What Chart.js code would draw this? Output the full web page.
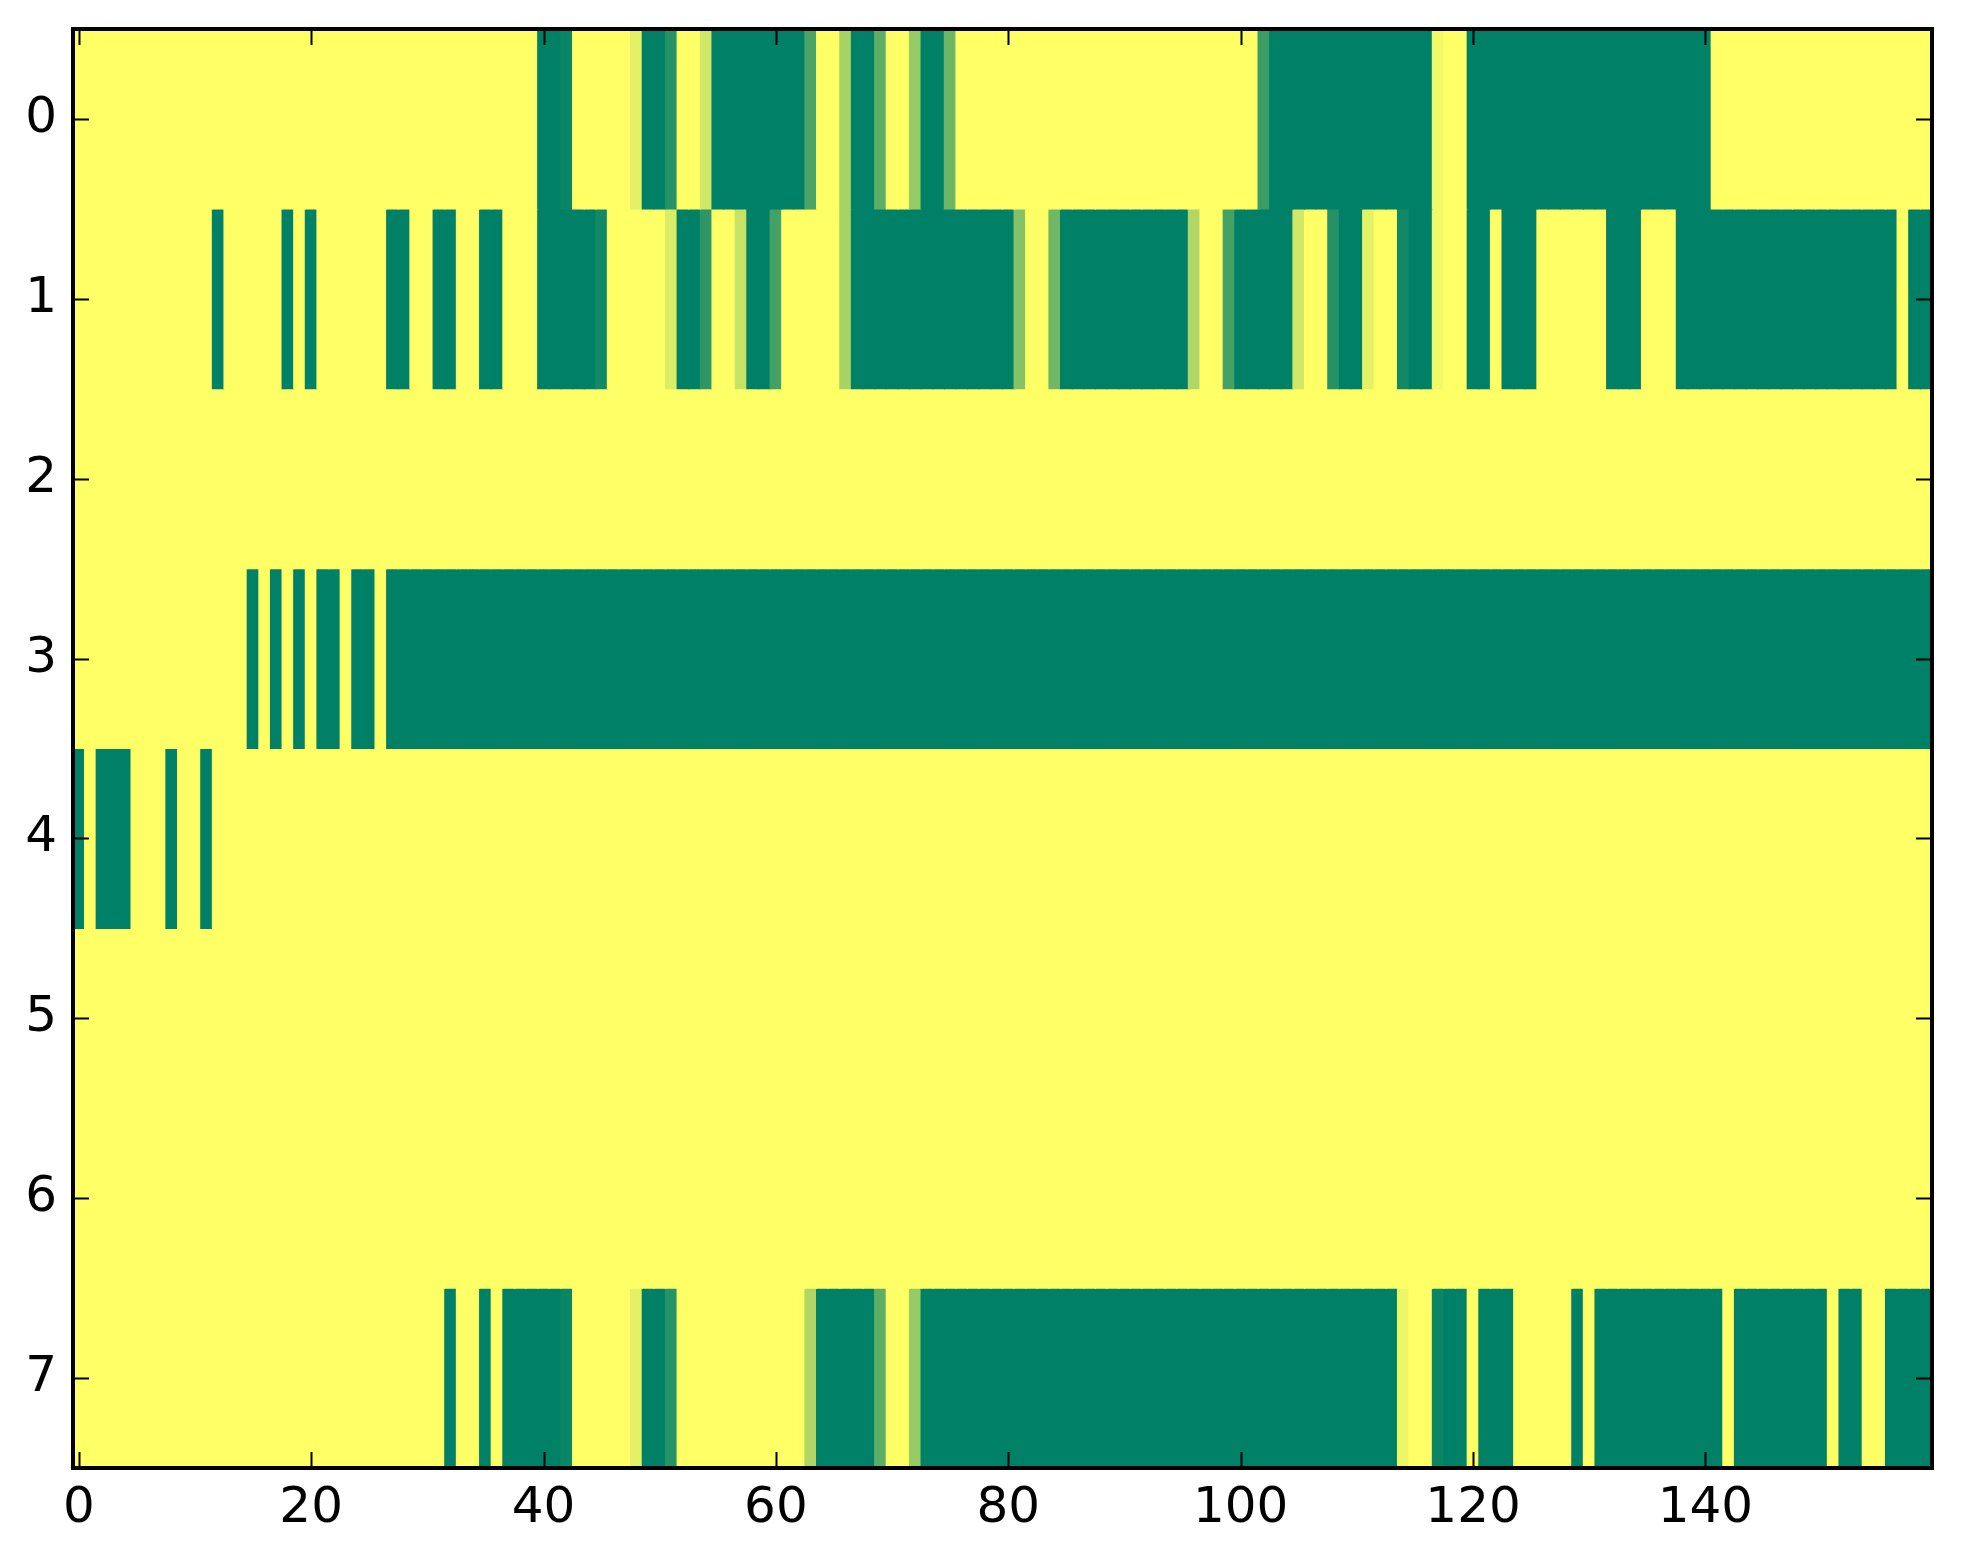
<!DOCTYPE html>
<html>
<head>
<meta charset="utf-8">
<title>Heatmap</title>
<script src="https://cdn.jsdelivr.net/npm/chart.js@4.4.0/dist/chart.umd.min.js"></script>
<style>
  html, body { margin: 0; padding: 0; background: #fff; }
  #wrap { width: 1963px; height: 1564px; }
</style>
</head>
<body>
<div id="wrap"><canvas id="heatmap" width="1963" height="1564"></canvas></div>
<script>
// Axis ticks
const rowLabels = [0, 1, 2, 3, 4, 5, 6, 7];
const xTickValues = [0, 20, 40, 60, 80, 100, 120, 140];

// Cell values, one array per row, 160 columns (20 per line)
const row0 = [
  1,1,1,1,1,1,1,1,1,1, 1,1,1,1,1,1,1,1,1,1,
  1,1,1,1,1,1,1,1,1,1, 1,1,1,1,1,1,1,1,1,1,
  0,0,0.04,1,1,1,1,1,0.89,0, 0,0.14,1,1,0.82,0,0,0,0,0,
  0,0,0,0.29,1,1,0.65,0,0,0.37, 1,1,0.59,0,0,0.43,1,1,1,1,
  1,1,1,1,1,1,1,1,1,1, 1,1,1,1,1,1,1,1,1,1,
  1,1,0.23,0,0,0,0,0,0,0, 0,0,0,0,0,0,0,0.95,1,1,
  0,0,0,0,0,0,0,0,0,0, 0,0,0,0,0,0,0,0,0,0,
  0,1,1,1,1,1,1,1,1,1, 1,1,1,1,1,1,1,1,1,1
];
const row1 = [
  1,1,1,1,1,1,1,1,1,1, 1,1,0,1,1,1,1,1,0,1,
  0,1,1,1,1,1,1,0,0,1, 1,0,0,1,1,0,0,1,1,1,
  0,0,0,0,0,0.07,1,1,1,1, 1,0.86,0,0,0.18,1,1,0.78,0,0,
  0.26,1,1,1,1,1,0.65,0,0,0, 0,0,0,0,0,0,0,0,0,0,
  0,0.52,1,1,0.44,0,0,0,0,0, 0,0,0,0,0,0,0.69,1,1,0.27,
  0,0,0,0,0,0.82,1,1,0.14,0, 0,0.89,1,1,0.07,0,0,0.95,1,1,
  0,0,1,0,0,0,1,1,1,1, 1,1,0,0,0,1,1,1,0,0,
  0,0,0,0,0,0,0,0,0,0, 0,0,0,0,0,0,0,1,0,0
];
const row2 = [
  1,1,1,1,1,1,1,1,1,1, 1,1,1,1,1,1,1,1,1,1,
  1,1,1,1,1,1,1,1,1,1, 1,1,1,1,1,1,1,1,1,1,
  1,1,1,1,1,1,1,1,1,1, 1,1,1,1,1,1,1,1,1,1,
  1,1,1,1,1,1,1,1,1,1, 1,1,1,1,1,1,1,1,1,1,
  1,1,1,1,1,1,1,1,1,1, 1,1,1,1,1,1,1,1,1,1,
  1,1,1,1,1,1,1,1,1,1, 1,1,1,1,1,1,1,1,1,1,
  1,1,1,1,1,1,1,1,1,1, 1,1,1,1,1,1,1,1,1,1,
  1,1,1,1,1,1,1,1,1,1, 1,1,1,1,1,1,1,1,1,1
];
const row3 = [
  1,1,1,1,1,1,1,1,1,1, 1,1,1,1,1,0,1,0,1,0,
  1,0,0,1,0,0,1,0,0,0, 0,0,0,0,0,0,0,0,0,0,
  0,0,0,0,0,0,0,0,0,0, 0,0,0,0,0,0,0,0,0,0,
  0,0,0,0,0,0,0,0,0,0, 0,0,0,0,0,0,0,0,0,0,
  0,0,0,0,0,0,0,0,0,0, 0,0,0,0,0,0,0,0,0,0,
  0,0,0,0,0,0,0,0,0,0, 0,0,0,0,0,0,0,0,0,0,
  0,0,0,0,0,0,0,0,0,0, 0,0,0,0,0,0,0,0,0,0,
  0,0,0,0,0,0,0,0,0,0, 0,0,0,0,0,0,0,0,0,0
];
const row4 = [
  0,1,0,0,0,1,1,1,0,1, 1,0,1,1,1,1,1,1,1,1,
  1,1,1,1,1,1,1,1,1,1, 1,1,1,1,1,1,1,1,1,1,
  1,1,1,1,1,1,1,1,1,1, 1,1,1,1,1,1,1,1,1,1,
  1,1,1,1,1,1,1,1,1,1, 1,1,1,1,1,1,1,1,1,1,
  1,1,1,1,1,1,1,1,1,1, 1,1,1,1,1,1,1,1,1,1,
  1,1,1,1,1,1,1,1,1,1, 1,1,1,1,1,1,1,1,1,1,
  1,1,1,1,1,1,1,1,1,1, 1,1,1,1,1,1,1,1,1,1,
  1,1,1,1,1,1,1,1,1,1, 1,1,1,1,1,1,1,1,1,1
];
const row5 = [
  1,1,1,1,1,1,1,1,1,1, 1,1,1,1,1,1,1,1,1,1,
  1,1,1,1,1,1,1,1,1,1, 1,1,1,1,1,1,1,1,1,1,
  1,1,1,1,1,1,1,1,1,1, 1,1,1,1,1,1,1,1,1,1,
  1,1,1,1,1,1,1,1,1,1, 1,1,1,1,1,1,1,1,1,1,
  1,1,1,1,1,1,1,1,1,1, 1,1,1,1,1,1,1,1,1,1,
  1,1,1,1,1,1,1,1,1,1, 1,1,1,1,1,1,1,1,1,1,
  1,1,1,1,1,1,1,1,1,1, 1,1,1,1,1,1,1,1,1,1,
  1,1,1,1,1,1,1,1,1,1, 1,1,1,1,1,1,1,1,1,1
];
const row6 = [
  1,1,1,1,1,1,1,1,1,1, 1,1,1,1,1,1,1,1,1,1,
  1,1,1,1,1,1,1,1,1,1, 1,1,1,1,1,1,1,1,1,1,
  1,1,1,1,1,1,1,1,1,1, 1,1,1,1,1,1,1,1,1,1,
  1,1,1,1,1,1,1,1,1,1, 1,1,1,1,1,1,1,1,1,1,
  1,1,1,1,1,1,1,1,1,1, 1,1,1,1,1,1,1,1,1,1,
  1,1,1,1,1,1,1,1,1,1, 1,1,1,1,1,1,1,1,1,1,
  1,1,1,1,1,1,1,1,1,1, 1,1,1,1,1,1,1,1,1,1,
  1,1,1,1,1,1,1,1,1,1, 1,1,1,1,1,1,1,1,1,1
];
const row7 = [
  1,1,1,1,1,1,1,1,1,1, 1,1,1,1,1,1,1,1,1,1,
  1,1,1,1,1,1,1,1,1,1, 1,1,0,1,1,0,1,0,0,0,
  0,0,0.04,1,1,1,1,1,0.89,0, 0,0.15,1,1,1,1,1,1,1,1,
  1,1,1,0.69,0,0,0,0,0,0.37, 1,1,0.59,0,0,0,0,0,0,0,
  0,0,0,0,0,0,0,0,0,0, 0,0,0,0,0,0,0,0,0,0,
  0,0,0,0,0,0,0,0,0,0, 0,0,0,0,0.93,1,1,0.04,0,0,
  1,0,0,0,1,1,1,1,1,0, 1,0,0,0,0,0,0,0,0,0,
  0,0,1,0,0,0,0,0,0,0, 0,1,0,0,1,1,0,0,0,0
];

const rows = [row0, row1, row2, row3, row4, row5, row6, row7];

// matplotlib "summer" colormap
function summer(v) {
    const r = Math.round(255 * v);
    const g = Math.round(127.5 + 127.5 * v);
    return `rgb(${r}, ${g}, 102)`;
}

const fontSpec = { family: "'DejaVu Sans', sans-serif", size: 50 };

// one dataset per row, each cell a floating bar spanning the row
const datasets = rows.map((vals, r) => ({
    data: vals.map((v, c) => ({ x: c, y: [rowLabels[r] - 0.5, rowLabels[r] + 0.5] })),
    backgroundColor: vals.map(summer),
    borderWidth: 0,
    inflateAmount: 0.6,
    barPercentage: 1,
    categoryPercentage: 1,
    grouped: false
}));

// inward ticks on all four sides plus the frame
const frameAndTicks = {
    id: "frameAndTicks",
    afterDraw(chart) {
        const { ctx, chartArea: a, scales: { x, y } } = chart;
        const tickLen = 16;
        ctx.save();
        ctx.strokeStyle = "#000";
        ctx.lineWidth = 2;
        ctx.beginPath();
        x.ticks.forEach(t => {
            const px = Math.round(x.getPixelForValue(t.value)) + 0.5;
            ctx.moveTo(px, a.bottom); ctx.lineTo(px, a.bottom - tickLen);
            ctx.moveTo(px, a.top); ctx.lineTo(px, a.top + tickLen);
        });
        y.ticks.forEach(t => {
            const py = Math.round(y.getPixelForValue(t.value)) + 0.5;
            ctx.moveTo(a.left, py); ctx.lineTo(a.left + tickLen, py);
            ctx.moveTo(a.right, py); ctx.lineTo(a.right - tickLen, py);
        });
        ctx.stroke();
        ctx.lineWidth = 4;
        ctx.strokeRect(a.left, a.top, a.right - a.left, a.bottom - a.top);
        ctx.restore();
    }
};

new Chart(document.getElementById("heatmap"), {
    type: "bar",
    data: { datasets },
    plugins: [frameAndTicks],
    options: {
        responsive: false,
        devicePixelRatio: 1,
        animation: false,
        layout: { padding: { top: 29, right: 31, left: 0, bottom: 0 } },
        plugins: {
            legend: { display: false },
            tooltip: { enabled: false }
        },
        scales: {
            x: {
                type: "linear",
                offset: false,
                min: -0.5,
                max: 159.5,
                grid: { display: false, drawTicks: false, offset: false },
                border: { display: false },
                afterBuildTicks: s => { s.ticks = xTickValues.map(v => ({ value: v })); },
                afterFit: s => {
                    s.height = 96;
                    s.paddingLeft = 0;
                    s.paddingRight = 0;
                },
                ticks: { color: "#000", font: fontSpec, padding: 11, maxRotation: 0, autoSkip: false }
            },
            y: {
                type: "linear",
                reverse: true,
                min: -0.5,
                max: 7.5,
                grid: { display: false, drawTicks: false },
                border: { display: false },
                afterBuildTicks: s => { s.ticks = rowLabels.map(v => ({ value: v })); },
                afterFit: s => {
                    s.width = 73;
                    s.paddingTop = 0;
                    s.paddingBottom = 0;
                },
                ticks: { color: "#000", font: fontSpec, padding: 16, autoSkip: false }
            }
        }
    }
});
</script>
</body>
</html>
